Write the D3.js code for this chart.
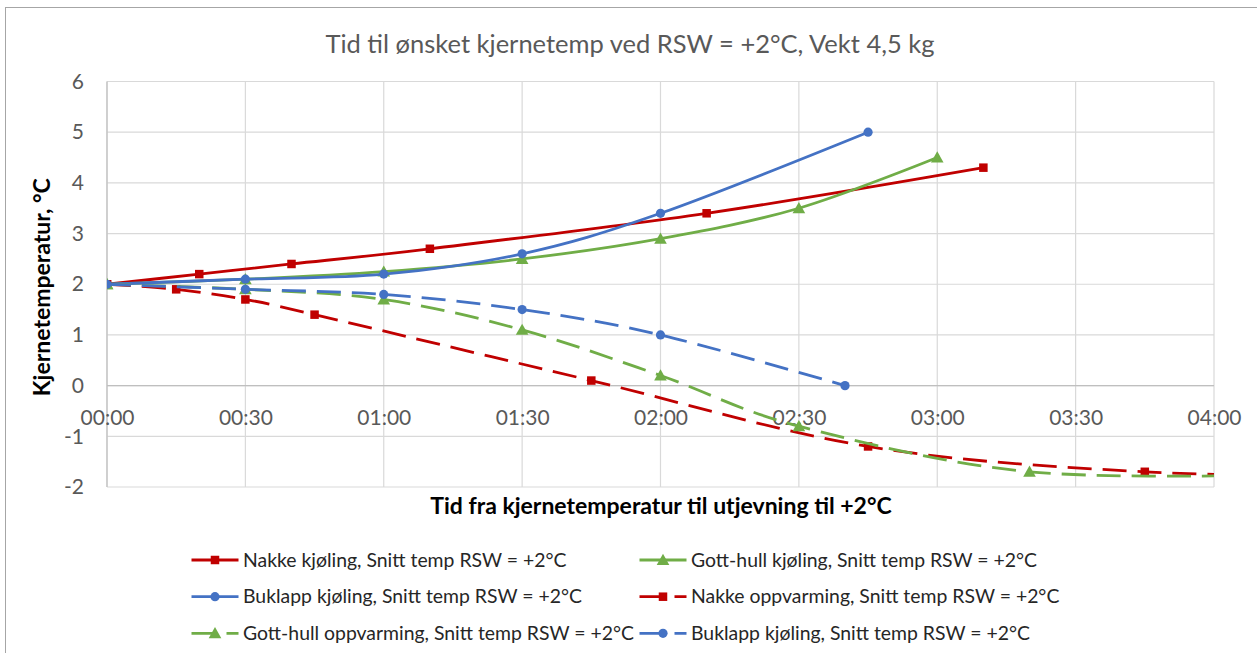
<!DOCTYPE html>
<html>
<head>
<meta charset="utf-8">
<script src="https://cdn.jsdelivr.net/npm/d3@7"></script>
<style>
  html, body { margin: 0; padding: 0; background: #fff; }
  svg { display: block; }
  text { font-family: Lato, "Open Sans", sans-serif; }
</style>
</head>
<body>
<svg id="chart" width="1257" height="653"></svg>
<script>
// Time axis (minutes) and its labels
const timeTicks = [0, 30, 60, 90, 120, 150, 180, 210, 240];
const timeTickLabels = ["00:00", "00:30", "01:00", "01:30", "02:00", "02:30", "03:00", "03:30", "04:00"];
const tempTicks = [-2, -1, 0, 1, 2, 3, 4, 5, 6];

// Nakke kjøling
const nakkeKjolingMin  = [0, 20, 40, 70, 130, 190];
const nakkeKjolingTemp = [2, 2.2, 2.4, 2.7, 3.4, 4.3];
// Gott-hull kjøling
const gottKjolingMin  = [0, 30, 60, 90, 120, 150, 180];
const gottKjolingTemp = [2, 2.1, 2.25, 2.5, 2.9, 3.5, 4.5];
// Buklapp kjøling
const buklappKjolingMin  = [0, 30, 60, 90, 120, 165];
const buklappKjolingTemp = [2, 2.1, 2.2, 2.6, 3.4, 5.0];
// Nakke oppvarming
const nakkeOppvMin  = [0, 15, 30, 45, 105, 165, 225, 285];
const nakkeOppvTemp = [2, 1.9, 1.7, 1.4, 0.1, -1.2, -1.7, -1.8];
// Gott-hull oppvarming
const gottOppvMin  = [0, 30, 60, 90, 120, 150, 200, 260];
const gottOppvTemp = [2, 1.9, 1.7, 1.1, 0.2, -0.8, -1.7, -1.75];
// Buklapp (stiplet)
const buklappOppvMin  = [0, 30, 60, 90, 120, 160];
const buklappOppvTemp = [2, 1.9, 1.8, 1.5, 1.0, 0];

const RED = "#C00000", GREEN = "#70AD47", BLUE = "#4472C4";

const series = [
  { name: "Nakke kjøling, Snitt temp RSW = +2°C", x: nakkeKjolingMin, y: nakkeKjolingTemp, color: RED, dashed: false, marker: "square" },
  { name: "Gott-hull kjøling, Snitt temp RSW = +2°C", x: gottKjolingMin, y: gottKjolingTemp, color: GREEN, dashed: false, marker: "triangle" },
  { name: "Buklapp kjøling, Snitt temp RSW = +2°C", x: buklappKjolingMin, y: buklappKjolingTemp, color: BLUE, dashed: false, marker: "circle" },
  { name: "Nakke oppvarming, Snitt temp RSW = +2°C", x: nakkeOppvMin, y: nakkeOppvTemp, color: RED, dashed: true, marker: "square" },
  { name: "Gott-hull oppvarming, Snitt temp RSW = +2°C", x: gottOppvMin, y: gottOppvTemp, color: GREEN, dashed: true, marker: "triangle" },
  { name: "Buklapp kjøling, Snitt temp RSW = +2°C", x: buklappOppvMin, y: buklappOppvTemp, color: BLUE, dashed: true, marker: "circle" }
];

const svg = d3.select("#chart");
const W = 1257, H = 653;
const plot = { left: 107, right: 1214, top: 81.5, bottom: 487 };

svg.append("rect").attr("width", W).attr("height", H).attr("fill", "#fff");
// chart frame
svg.append("rect")
  .attr("x", 5.5).attr("y", 7.5).attr("width", W + 20).attr("height", H + 20)
  .attr("fill", "none").attr("stroke", "#a6a6a6").attr("stroke-width", 1);

const x = d3.scaleLinear().domain([0, 240]).range([plot.left, plot.right]);
const y = d3.scaleLinear().domain([-2, 6]).range([plot.bottom, plot.top]);

// Title
svg.append("text")
  .attr("x", 630).attr("y", 53)
  .attr("text-anchor", "middle")
  .attr("fill", "#595959")
  .style("font-size", "25.5px")
  .text("Tid til ønsket kjernetemp ved RSW = +2°C, Vekt 4,5 kg");

// Gridlines
const grid = svg.append("g").attr("stroke", "#d9d9d9").attr("stroke-width", 1.2);
grid.selectAll("line.h").data(tempTicks).join("line")
  .attr("x1", plot.left).attr("x2", plot.right)
  .attr("y1", d => y(d)).attr("y2", d => y(d));
grid.selectAll("line.v").data(timeTicks).join("line")
  .attr("y1", plot.top).attr("y2", plot.bottom)
  .attr("x1", d => x(d)).attr("x2", d => x(d));

// Axis lines (horizontal axis crosses at 0)
svg.append("line").attr("x1", plot.left).attr("x2", plot.right)
  .attr("y1", y(0)).attr("y2", y(0)).attr("stroke", "#bfbfbf").attr("stroke-width", 1.2);
svg.append("line").attr("x1", plot.left).attr("x2", plot.left)
  .attr("y1", plot.top).attr("y2", plot.bottom).attr("stroke", "#bfbfbf").attr("stroke-width", 1.2);

// Y tick labels (plain hyphen-minus, as in the source sheet)
const yAxis = d3.axisLeft(y).tickValues(tempTicks).tickSize(0).tickPadding(0).tickFormat(d => String(d));
const gy = svg.append("g").attr("transform", `translate(${plot.left - 23},0)`).call(yAxis);
gy.select(".domain").remove();
gy.selectAll("text").attr("fill", "#595959").style("font-size", "21px").style("font-family", "Lato, sans-serif");

// X tick labels, placed below the zero line
const xAxis = d3.axisBottom(x).tickValues(timeTicks).tickSize(0).tickPadding(0)
  .tickFormat((d, i) => timeTickLabels[i]);
const gx = svg.append("g").attr("transform", `translate(0,${y(0) + 24})`).call(xAxis);
gx.select(".domain").remove();
gx.selectAll("text").attr("fill", "#595959").style("font-size", "21px").style("font-family", "Lato, sans-serif");

// Axis titles
svg.append("text")
  .attr("transform", `translate(50,${(plot.top + plot.bottom) / 2 + 3}) rotate(-90)`)
  .attr("text-anchor", "middle")
  .attr("fill", "#000")
  .style("font-size", "23px").style("font-weight", "bold")
  .text("Kjernetemperatur, °C");
svg.append("text")
  .attr("x", 661).attr("y", 514)
  .attr("text-anchor", "middle")
  .attr("fill", "#000")
  .style("font-size", "23px").style("font-weight", "bold")
  .text("Tid fra kjernetemperatur til utjevning til +2°C");

// Plot clip
svg.append("defs").append("clipPath").attr("id", "plotClip")
  .append("rect").attr("x", plot.left).attr("y", plot.top - 10)
  .attr("width", plot.right - plot.left).attr("height", plot.bottom - plot.top + 20);

const dashPattern = "24,11";
const line = d3.line().x(d => x(d[0])).y(d => y(d[1])).curve(d3.curveCardinal.tension(0));

function drawMarker(sel, type, color) {
  if (type === "square") {
    sel.append("rect").attr("x", -4.25).attr("y", -4.25).attr("width", 8.5).attr("height", 8.5).attr("fill", color);
  } else if (type === "circle") {
    sel.append("circle").attr("r", 4.6).attr("fill", color);
  } else {
    sel.append("path").attr("d", "M0,-6.2L6.3,5L-6.3,5Z").attr("fill", color);
  }
}

const plotG = svg.append("g").attr("clip-path", "url(#plotClip)");
series.forEach(s => {
  const pts = s.x.map((m, i) => [m, s.y[i]]);
  const g = plotG.append("g");
  g.append("path").datum(pts)
    .attr("d", line)
    .attr("fill", "none")
    .attr("stroke", s.color)
    .attr("stroke-width", 2.8)
    .attr("stroke-dasharray", s.dashed ? dashPattern : null);
  g.selectAll("g.m").data(pts).join("g")
    .attr("transform", d => `translate(${x(d[0])},${y(d[1])})`)
    .each(function () { drawMarker(d3.select(this), s.marker, s.color); });
});

// Legend: two columns, three rows
const legCols = [191.5, 639.5];
const legRows = [560, 596.7, 633.3];
series.forEach((s, i) => {
  const lx = legCols[i % 2], ly = legRows[Math.floor(i / 2)];
  const g = svg.append("g").attr("transform", `translate(${lx},${ly})`);
  g.append("line").attr("x1", 0).attr("x2", 47).attr("y1", 0).attr("y2", 0)
    .attr("stroke", s.color).attr("stroke-width", 2.8)
    .attr("stroke-dasharray", s.dashed ? dashPattern : null);
  const m = g.append("g").attr("transform", "translate(23.5,0)");
  drawMarker(m, s.marker, s.color);
  g.append("text").attr("x", 51.5).attr("y", 0).attr("dy", "0.35em")
    .attr("fill", "#262626")
    .style("font-size", "19.4px")
    .text(s.name);
});
</script>
</body>
</html>
